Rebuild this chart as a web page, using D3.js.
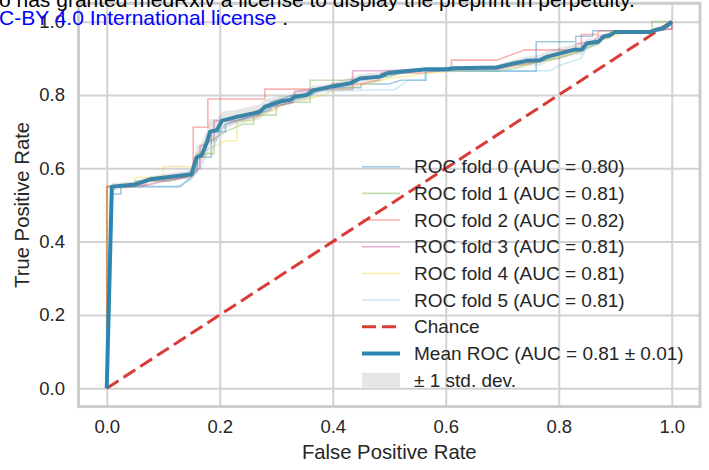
<!DOCTYPE html>
<html>
<head>
<meta charset="utf-8">
<script src="https://cdn.jsdelivr.net/npm/d3@7"></script>
<style>
  body { margin: 0; background: #fff; }
  svg { display: block; font-family: "Liberation Sans", Arial, sans-serif; }
</style>
</head>
<body>
<div id="chart"></div>
<script>
// fold curves, [fpr, tpr]
var fold0 = [[0,0],[0.01,0.53],[0.025,0.53],[0.025,0.55],[0.13,0.55],[0.16,0.59],[0.16,0.63],[0.185,0.63],[0.185,0.70],[0.21,0.70],[0.21,0.72],[0.25,0.74],[0.29,0.76],[0.29,0.78],[0.33,0.80],[0.36,0.80],[0.38,0.82],[0.45,0.82],[0.45,0.83],[0.5,0.83],[0.52,0.84],[0.565,0.84],[0.565,0.865],[0.62,0.865],[0.76,0.865],[0.76,0.945],[0.83,0.945],[0.83,0.96],[0.86,0.96],[0.86,0.975],[0.97,0.975],[1,1]];
var fold1 = [[0,0],[0,0.55],[0.05,0.55],[0.05,0.565],[0.11,0.565],[0.15,0.58],[0.16,0.6],[0.16,0.64],[0.19,0.64],[0.19,0.68],[0.21,0.70],[0.24,0.72],[0.26,0.72],[0.26,0.745],[0.30,0.745],[0.30,0.77],[0.33,0.78],[0.36,0.78],[0.36,0.84],[0.42,0.84],[0.45,0.845],[0.50,0.85],[0.52,0.86],[0.57,0.87],[0.69,0.865],[0.73,0.875],[0.76,0.89],[0.80,0.90],[0.84,0.92],[0.87,0.94],[0.87,0.95],[0.89,0.955],[0.89,0.97],[0.965,0.97],[0.965,1.0],[1,1]];
var fold2 = [[0,0],[0,0.55],[0.07,0.555],[0.07,0.565],[0.153,0.58],[0.153,0.712],[0.179,0.712],[0.179,0.789],[0.28,0.789],[0.28,0.816],[0.39,0.816],[0.40,0.83],[0.45,0.83],[0.48,0.84],[0.486,0.86],[0.56,0.86],[0.61,0.87],[0.61,0.895],[0.69,0.895],[0.74,0.923],[0.84,0.923],[0.84,0.965],[0.87,0.965],[0.87,0.975],[0.97,0.975],[1,0.98],[1,1]];
var fold3 = [[0,0],[0,0.55],[0.06,0.55],[0.10,0.565],[0.14,0.575],[0.165,0.60],[0.165,0.66],[0.19,0.68],[0.19,0.73],[0.23,0.73],[0.27,0.745],[0.27,0.76],[0.33,0.78],[0.333,0.81],[0.38,0.815],[0.435,0.815],[0.435,0.866],[0.485,0.866],[0.57,0.868],[0.69,0.87],[0.72,0.88],[0.76,0.89],[0.78,0.905],[0.83,0.92],[0.83,0.94],[0.86,0.945],[0.87,0.96],[0.9,0.97],[0.97,0.975],[0.97,0.98],[1,0.98],[1,1]];
var fold4 = [[0,0],[0,0.55],[0.05,0.555],[0.05,0.575],[0.10,0.575],[0.10,0.605],[0.155,0.605],[0.155,0.62],[0.18,0.64],[0.19,0.66],[0.21,0.675],[0.23,0.675],[0.23,0.73],[0.255,0.73],[0.28,0.75],[0.30,0.76],[0.31,0.78],[0.34,0.79],[0.36,0.79],[0.40,0.81],[0.43,0.82],[0.46,0.83],[0.5,0.845],[0.57,0.86],[0.62,0.865],[0.70,0.875],[0.75,0.885],[0.80,0.905],[0.85,0.93],[0.88,0.955],[0.92,0.97],[0.97,0.975],[0.98,0.98],[1,1]];
var fold5 = [[0,0],[0.01,0.54],[0.02,0.55],[0.125,0.55],[0.15,0.57],[0.16,0.60],[0.165,0.64],[0.19,0.66],[0.2,0.70],[0.21,0.72],[0.25,0.735],[0.28,0.76],[0.31,0.78],[0.34,0.79],[0.38,0.81],[0.51,0.815],[0.535,0.841],[0.563,0.841],[0.563,0.866],[0.785,0.866],[0.80,0.88],[0.84,0.90],[0.85,0.93],[0.87,0.945],[0.89,0.965],[0.91,0.97],[0.97,0.975],[1,1]];
var folds = [fold0, fold1, fold2, fold3, fold4, fold5];
var foldAuc = ["0.80", "0.81", "0.82", "0.81", "0.81", "0.81"];
var foldColors = ["#1a78b4", "#6ab04c", "#e8413c", "#c0398a", "#e8d83a", "#7ccbe8"];

// mean curve and its std
var meanFpr = [0,0.009,0.05,0.077,0.103,0.15,0.159,0.168,0.177,0.183,0.195,0.204,0.227,0.271,0.28,0.307,0.324,0.333,0.354,0.366,0.383,0.401,0.431,0.448,0.484,0.496,0.519,0.566,0.602,0.613,0.69,0.72,0.743,0.767,0.779,0.826,0.841,0.85,0.87,0.879,0.891,0.90,0.962,0.971,0.985,0.994,1];
var meanTpr = [0,0.55,0.556,0.57,0.575,0.584,0.63,0.635,0.67,0.70,0.704,0.73,0.739,0.754,0.768,0.782,0.786,0.795,0.80,0.813,0.818,0.824,0.832,0.845,0.85,0.859,0.863,0.87,0.87,0.873,0.875,0.886,0.893,0.895,0.904,0.923,0.924,0.941,0.945,0.959,0.963,0.972,0.972,0.977,0.982,0.991,1];
var stdTpr = [0,0.01,0.008,0.008,0.01,0.012,0.03,0.035,0.035,0.035,0.03,0.025,0.02,0.02,0.02,0.015,0.012,0.015,0.015,0.012,0.01,0.01,0.015,0.012,0.012,0.01,0.008,0.002,0.002,0.004,0.006,0.01,0.012,0.015,0.015,0.015,0.015,0.012,0.01,0.008,0.006,0.005,0.005,0.006,0.008,0.005,0];

var ticks = [0, 0.2, 0.4, 0.6, 0.8, 1.0];

window.onload = function() {
    var W = 709, H = 470;
    var left = 78.5, right = 700, top = 3.3, bottom = 406.6;

    var svg = d3.select("#chart").append("svg")
        .attr("width", W).attr("height", H);

    var x = d3.scaleLinear().domain([-0.05, 1.05]).range([left, right]);
    var y = d3.scaleLinear().domain([-0.05, 1.05]).range([bottom, top]);

    // grid
    svg.append("g")
       .attr("transform", "translate(0," + bottom + ")")
       .call(d3.axisBottom(x).tickValues(ticks).tickSize(-(bottom - top)).tickFormat(""))
       .call(function(g) { g.select(".domain").remove(); })
       .selectAll("line").attr("stroke", "#d2d2d2").attr("stroke-width", 2);
    svg.append("g")
       .attr("transform", "translate(" + left + ",0)")
       .call(d3.axisLeft(y).tickValues(ticks).tickSize(-(right - left)).tickFormat(""))
       .call(function(g) { g.select(".domain").remove(); })
       .selectAll("line").attr("stroke", "#d2d2d2").attr("stroke-width", 2);

    // frame
    svg.append("rect")
       .attr("x", left).attr("y", top)
       .attr("width", right - left).attr("height", bottom - top)
       .attr("fill", "none").attr("stroke", "#cccccc").attr("stroke-width", 3);

    var line = d3.line().x(function(d) { return x(d[0]); }).y(function(d) { return y(d[1]); });

    // folds
    folds.forEach(function(f, i) {
        svg.append("path").datum(f)
           .attr("d", line)
           .attr("fill", "none")
           .attr("stroke", foldColors[i])
           .attr("stroke-width", 1.6)
           .attr("stroke-opacity", 0.4);
    });

    // chance
    svg.append("path").datum([[0, 0], [1, 1]])
       .attr("d", line)
       .attr("fill", "none")
       .attr("stroke", "#d93b36")
       .attr("stroke-width", 3)
       .attr("stroke-dasharray", "14,6");

    // mean
    var meanPts = meanFpr.map(function(f, i) { return [f, meanTpr[i]]; });
    svg.append("path").datum(meanPts)
       .attr("d", line)
       .attr("fill", "none")
       .attr("stroke", "#2a86b3")
       .attr("stroke-width", 4)
       .attr("stroke-linejoin", "round");

    // std band
    var area = d3.area()
        .x(function(d, i) { return x(meanFpr[i]); })
        .y0(function(d, i) { return y(Math.max(meanTpr[i] - stdTpr[i], 0)); })
        .y1(function(d, i) { return y(Math.min(meanTpr[i] + stdTpr[i], 1)); });
    svg.append("path").datum(meanFpr)
       .attr("d", area)
       .attr("fill", "grey")
       .attr("fill-opacity", 0.2);

    // tick labels
    var xAx = svg.append("g")
       .attr("transform", "translate(0," + bottom + ")")
       .call(d3.axisBottom(x).tickValues(ticks).tickSize(0).tickPadding(13.3).tickFormat(d3.format(".1f")));
    var yAx = svg.append("g")
       .attr("transform", "translate(" + left + ",0)")
       .call(d3.axisLeft(y).tickValues(ticks).tickSize(0).tickPadding(13.5).tickFormat(d3.format(".1f")));
    [xAx, yAx].forEach(function(g) {
        g.select(".domain").remove();
        g.selectAll("text").attr("font-size", 18.5).attr("fill", "#262626")
         .attr("font-family", "Liberation Sans, Arial, sans-serif");
    });

    // axis labels
    svg.append("text")
       .attr("x", (x(0) + x(1)) / 2).attr("y", 459)
       .attr("text-anchor", "middle").attr("font-size", 20.3).attr("fill", "#262626")
       .text("False Positive Rate");
    svg.append("text")
       .attr("transform", "translate(29," + ((y(0) + y(1)) / 2) + ") rotate(-90)")
       .attr("text-anchor", "middle").attr("font-size", 20.3).attr("fill", "#262626")
       .text("True Positive Rate");

    // legend
    var legend = svg.append("g").attr("transform", "translate(362,166.7)");
    var rowH = 26.67;
    var labels = foldAuc.map(function(a, i) { return "ROC fold " + i + " (AUC = " + a + ")"; });
    labels.forEach(function(t, i) {
        legend.append("line")
              .attr("x1", 0).attr("x2", 38).attr("y1", i * rowH).attr("y2", i * rowH)
              .attr("stroke", foldColors[i]).attr("stroke-width", 1.6).attr("stroke-opacity", 0.4);
    });
    legend.append("line")
          .attr("x1", 0).attr("x2", 38).attr("y1", 6 * rowH).attr("y2", 6 * rowH)
          .attr("stroke", "#d93b36").attr("stroke-width", 3).attr("stroke-dasharray", "14,6");
    legend.append("line")
          .attr("x1", 0).attr("x2", 38).attr("y1", 7 * rowH).attr("y2", 7 * rowH)
          .attr("stroke", "#2a86b3").attr("stroke-width", 4);
    legend.append("rect")
          .attr("x", 0).attr("y", 8 * rowH - 7.3).attr("width", 38).attr("height", 14.6)
          .attr("fill", "grey").attr("fill-opacity", 0.2);
    labels.concat(["Chance", "Mean ROC (AUC = 0.81 \u00b1 0.01)", "\u00b1 1 std. dev."]).forEach(function(t, i) {
        legend.append("text")
              .attr("x", 52).attr("y", i * rowH).attr("dy", "0.35em")
              .attr("font-size", 19).attr("fill", "#262626")
              .text(t);
    });

    // page text showing over the figure
    svg.append("text")
       .attr("x", -1).attr("y", 7).attr("font-size", 21).attr("fill", "#000")
       .text("o has granted medRxiv a license to display the preprint in perpetuity.");
    var blue = svg.append("text")
       .attr("x", -1).attr("y", 25).attr("font-size", 21);
    blue.append("tspan").attr("fill", "#0000ff").text("C-BY 4.0 International license");
    blue.append("tspan").attr("fill", "#000").text(" .");
};
</script>
</body>
</html>
